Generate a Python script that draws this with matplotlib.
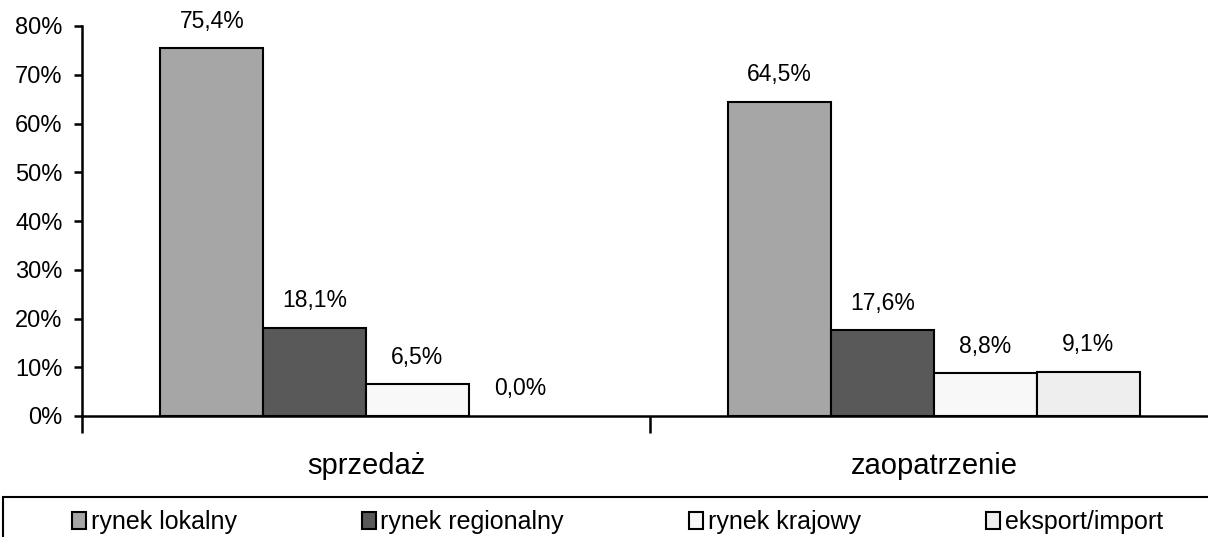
import matplotlib.pyplot as plt
from matplotlib.patches import Patch, Rectangle
import numpy as np

plt.rcParams['font.family'] = ['Liberation Sans', 'DejaVu Sans']

# data
categories = ['sprzedaż', 'zaopatrzenie']
series = ['rynek lokalny', 'rynek regionalny', 'rynek krajowy', 'eksport/import']
values = {
    'rynek lokalny': [75.4, 64.5],
    'rynek regionalny': [18.1, 17.6],
    'rynek krajowy': [6.5, 8.8],
    'eksport/import': [0.0, 9.1],
}
colors = ['#a6a6a6', '#595959', '#f8f8f8', '#eeeeee']
yticks = [0, 10, 20, 30, 40, 50, 60, 70, 80]

W, H = 1208, 537
fig = plt.figure(figsize=(W / 100, H / 100), dpi=100)
ax = fig.add_axes([82 / W, (H - 416) / H, 1136 / W, 390 / H])

bar_w = 0.181
x = np.arange(len(categories)) + 0.5
for i, s in enumerate(series):
    pos = x + (i - 1.5) * bar_w
    # zero-height bars have no visible outline in the original
    edges = ['black' if v > 0 else 'none' for v in values[s]]
    bars = ax.bar(pos, values[s], width=bar_w, color=colors[i],
                  edgecolor=edges, linewidth=1.5, zorder=3)
    for b, v in zip(bars, values[s]):
        ax.annotate(f"{v:.1f}".replace('.', ',') + '%',
                    (b.get_x() + b.get_width() / 2, v),
                    xytext=(0, 19.5), textcoords='offset points',
                    ha='center', va='center', fontsize=16.5)

ax.set_xlim(0, len(categories))
ax.set_ylim(0, 80)
ax.set_yticks(yticks)
ax.set_yticklabels([f"{t}%" for t in yticks], fontsize=17)
ax.set_xticks(range(len(categories) + 1))
ax.set_xticklabels([])
ax.set_xticks(x, minor=True)
ax.set_xticklabels(categories, minor=True, fontsize=21)
ax.tick_params(axis='x', which='minor', length=0, pad=26)
ax.tick_params(axis='x', which='major', length=12, width=1.8, direction='out')
ax.tick_params(axis='y', length=6, width=1.8, direction='out', pad=8)

for side in ['top', 'right']:
    ax.spines[side].set_visible(False)
for side in ['left', 'bottom']:
    ax.spines[side].set_linewidth(1.8)

# legend box running off the bottom/right like the original
fig.patches.append(Rectangle((3 / W, -0.05), 1.2, (H - 497) / H + 0.05,
                             transform=fig.transFigure, fill=False,
                             edgecolor='black', linewidth=1.5))
handles = [Patch(facecolor=c, edgecolor='black', linewidth=1.5) for c in colors]
fig.legend(handles, series, loc='center left', bbox_to_anchor=(72 / W, (H - 522) / H),
           ncol=4, frameon=False, fontsize=18, handlelength=0.55, handleheight=0.7,
           handletextpad=0.2, columnspacing=5.0, borderaxespad=0, borderpad=0)

fig.savefig('out.png', dpi=100)
